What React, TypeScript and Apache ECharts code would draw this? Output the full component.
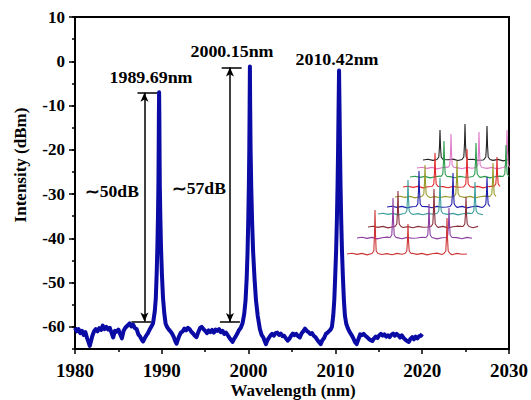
import React, { useEffect, useRef } from "react";
import * as echarts from "echarts";

// ---- Main spectrum (wavelength in nm, intensity in dBm) ----
const wavelength = [
  1980.0, 1980.2, 1980.4, 1980.6, 1980.8, 1981.0, 1981.2, 1981.4, 1981.55, 1981.7, 1981.85, 1982.0,
  1982.2, 1982.4, 1982.6, 1982.8, 1983.0, 1983.2, 1983.4, 1983.6, 1983.8, 1984.0, 1984.2, 1984.4,
  1984.6, 1984.8, 1985.0, 1985.2, 1985.4, 1985.6, 1985.8, 1986.0, 1986.3, 1986.5, 1986.7, 1986.9,
  1987.1, 1987.3, 1987.5, 1987.7, 1987.85, 1988.0, 1988.2, 1988.4, 1988.6, 1988.8, 1988.99,
  1989.19, 1989.31, 1989.41, 1989.49, 1989.56, 1989.61, 1989.64, 1989.665, 1989.69, 1989.715,
  1989.74, 1989.77, 1989.83, 1989.91, 1990.01, 1990.14, 1990.29, 1990.44,
  1990.6, 1990.8, 1991.0, 1991.2, 1991.4, 1991.55, 1991.7, 1991.85, 1992.0, 1992.2, 1992.4, 1992.6,
  1992.8, 1993.0, 1993.2, 1993.4, 1993.6, 1993.8, 1994.0, 1994.2, 1994.4, 1994.6, 1994.8, 1995.0,
  1995.2, 1995.4, 1995.6, 1995.8, 1996.0, 1996.2, 1996.4, 1996.6, 1996.8, 1997.0, 1997.2, 1997.4,
  1997.6, 1997.8, 1998.0, 1998.15, 1998.3, 1998.5, 1998.7, 1998.9, 1999.1, 1999.3,
  1999.5, 1999.65, 1999.78, 1999.88, 1999.96, 2000.03, 2000.08, 2000.12, 2000.15, 2000.18,
  2000.23, 2000.3, 2000.4, 2000.52, 2000.68, 2000.85, 2001.05, 2001.3, 2001.5,
  2001.7, 2001.85, 2002.0, 2002.15, 2002.3, 2002.5, 2002.7, 2002.9, 2003.1, 2003.3, 2003.5, 2003.7,
  2003.9, 2004.1, 2004.3, 2004.5, 2004.7, 2004.9, 2005.1, 2005.3, 2005.5, 2005.7, 2005.9, 2006.1,
  2006.3, 2006.5, 2006.7, 2006.9, 2007.1, 2007.3, 2007.5, 2007.7, 2007.9, 2008.1, 2008.3, 2008.5,
  2008.7, 2008.9, 2009.1, 2009.3, 2009.45, 2009.6,
  2009.75, 2009.87, 2009.97, 2010.08, 2010.17, 2010.25, 2010.31, 2010.37, 2010.42, 2010.47,
  2010.53, 2010.59, 2010.67, 2010.76, 2010.87, 2010.98, 2011.1, 2011.25,
  2011.45, 2011.65, 2011.85, 2012.05, 2012.25, 2012.45, 2012.65, 2012.85, 2013.05, 2013.25,
  2013.45, 2013.65, 2013.85, 2014.05, 2014.25, 2014.45, 2014.65, 2014.85, 2015.05, 2015.25,
  2015.45, 2015.65, 2015.85, 2016.05, 2016.25, 2016.45, 2016.65, 2016.85, 2017.05, 2017.25,
  2017.45, 2017.65, 2017.85, 2018.05, 2018.25, 2018.45, 2018.65, 2018.85, 2019.05, 2019.25,
  2019.45, 2019.65, 2019.85, 2020.0,
];
const intensity = [
  -60.2, -61.0, -60.5, -61.4, -60.9, -61.8, -61.2, -62.6, -63.4, -64.3, -63.2, -62.0,
  -61.0, -60.5, -61.0, -60.3, -60.7, -59.7, -60.5, -60.0, -60.6, -60.2, -61.3, -62.4,
  -60.9, -61.1, -60.6, -61.6, -62.6, -60.9, -60.2, -59.8, -59.2, -59.9, -59.5, -60.3,
  -60.5, -61.7, -62.2, -62.9, -63.3, -62.7, -62.0, -61.4, -60.6, -59.9, -59.2,
  -56.5, -53.5, -48.0, -42.0, -35.0, -28.0, -20.0, -12.0, -7.0, -12.0,
  -20.0, -28.0, -35.0, -42.0, -48.0, -53.5, -57.0, -59.3,
  -60.0, -60.6, -61.0, -61.6, -62.4, -63.2, -63.8, -62.9, -62.1, -61.3, -61.0, -60.4,
  -60.8, -60.2, -60.5, -61.1, -61.5, -62.0, -62.3, -61.2, -60.3, -60.0, -60.5, -60.9,
  -61.4, -60.8, -61.2, -60.7, -61.3, -60.6, -60.9, -60.5, -61.2, -60.9, -61.6, -61.3,
  -61.9, -62.5, -63.0, -63.4, -62.8, -62.2, -61.5, -60.7, -60.2, -59.2,
  -57.0, -54.0, -49.0, -43.0, -36.0, -28.0, -20.0, -10.0, -1.2, -10.0,
  -20.0, -28.0, -36.0, -43.0, -49.0, -54.0, -57.5, -60.5, -61.8,
  -62.4, -63.2, -63.9, -63.1, -62.6, -62.0, -61.6, -62.0, -61.4, -61.3, -61.8, -61.5,
  -62.1, -62.0, -62.6, -63.1, -62.7, -62.0, -61.5, -61.9, -61.6, -62.1, -62.4, -61.5,
  -61.0, -60.4, -60.9, -61.2, -61.6, -61.4, -62.0, -62.3, -62.9, -63.4, -63.9, -63.0,
  -62.5, -61.6, -61.3, -60.9, -60.6, -60.0,
  -57.5, -54.0, -49.0, -43.0, -36.0, -28.0, -20.0, -10.0, -2.1, -10.0,
  -20.0, -28.0, -36.0, -43.0, -49.0, -54.0, -57.5, -59.3,
  -60.4, -61.2, -61.8, -62.5, -63.4, -63.9, -62.8, -61.7, -61.9, -61.6,
  -62.0, -62.3, -62.7, -63.0, -63.2, -62.6, -62.2, -62.5, -61.9, -61.6,
  -62.0, -61.7, -62.2, -61.9, -62.3, -61.8, -61.5, -62.0, -61.6, -61.9,
  -62.4, -61.9, -62.5, -62.9, -63.2, -63.4, -62.7, -62.3, -62.8, -62.2,
  -62.6, -62.1, -62.0, -61.6,
];

// ---- Axis ticks ----
const xMin = 1980;
const xMax = 2030;
const xStep = 10;
const yMin = -65;
const yMax = 10;
const yMajorTicks = [10, 0, -10, -20, -30, -40, -50, -60];

// ---- Annotations (data coordinates) ----
const arrowLines = [
  [[1988.0, -7.1], [1988.0, -58.8]],
  [[1997.85, -1.4], [1997.85, -58.9]],
];
const barLines = [
  [[1987.2, -7.1], [1989.5, -7.1]],
  [[1986.5, -58.8], [1988.8, -58.8]],
  [[1996.9, -1.4], [1999.2, -1.4]],
  [[1996.7, -58.9], [1999.0, -58.9]],
];
const peakLabels = ["1989.69nm", "2000.15nm", "2010.42nm"];
const ratioLabels = ["\u223C50dB", "\u223C57dB"];

// ---- Inset (photo of stacked spectra), in inset pixel units ----
const insetBaseY = [11, 27, 38, 51, 58, 68, 78, 88, 97, 105];
const insetStartX = [2, 12, 23, 33, 42, 50, 58, 65, 72, 78];
const insetEndX = [123, 130, 135, 140, 143, 148, 152, 157, 160, 163];
const insetPeakX = [
  [28, 61, 100], [36, 72, 92], [30, 66, 98], [30, 62, 97], [32, 66, 100],
  [30, 62, 98], [32, 64, 94], [34, 66, 96], [34, 62, 90], [17, 42, 64],
];
const insetPeakH = [
  [44, 30, 36], [40, 34, 30], [36, 38, 30], [34, 36, 32], [36, 34, 30],
  [32, 36, 34], [34, 38, 30], [36, 34, 32], [34, 36, 38], [30, 36, 34],
];
const insetColors = [
  "#cc3535", "#8c3ca0", "#8a2f3a", "#3a9c9c", "#1c1caa",
  "#9a9a2a", "#e02a2a", "#2a9a4a", "#e07ac8", "#222222",
];
const insetWiggle = [0, 0.8, -0.4, 0.6, -0.9, 0.3, 0.9, -0.5, 0.4, -0.7, 0.6, -0.2];
const peakShape = [[-3, 0.5, 0], [-1.2, 3, 0], [-0.5, 0, 0.45], [0, 0, 1], [0.5, 0, 0.45], [1.2, 3, 0], [3, 0.5, 0]];

const FONT = "'Liberation Serif', 'Times New Roman', serif";
const BLUE = "#0a0aa5";

function buildInsetTrace(i: number) {
  const pts: number[][] = [];
  const b = insetBaseY[i];
  const peaks = insetPeakX[i].map((p) => p + insetStartX[i]);
  let k = 0;
  for (let x = insetStartX[i]; x <= insetEndX[i]; x += 5, k++) {
    if (peaks.some((p) => Math.abs(p - x) < 3.5)) continue;
    pts.push([x, b + insetWiggle[k % insetWiggle.length]]);
  }
  peaks.forEach((p, j) => {
    const h = insetPeakH[i][j];
    peakShape.forEach(([dx, dy, f]) => pts.push([p + dx, b + dy + f * h]));
  });
  pts.sort((a, c) => a[0] - c[0]);
  return pts;
}

export default function App() {
  const ref = useRef<HTMLDivElement>(null);
  useEffect(() => {
    if (!ref.current) return;
    const chart = echarts.init(ref.current, undefined, { renderer: "svg" });
    const mainData = wavelength.map((w, i) => [w, intensity[i]]);

    const markData: any[] = [];
    arrowLines.forEach(([a, c]) => {
      markData.push([
        { coord: a, symbol: "arrow", symbolSize: [6, 9] },
        { coord: c, symbol: "arrow", symbolSize: [6, 9] },
      ]);
    });
    barLines.forEach(([a, c]) => {
      markData.push([
        { coord: a, symbol: "none" },
        { coord: c, symbol: "none" },
      ]);
    });

    const insetSeries = insetBaseY.map((_, i) => ({
      type: "line",
      xAxisIndex: 1,
      yAxisIndex: 2,
      data: buildInsetTrace(i),
      showSymbol: false,
      silent: true,
      lineStyle: { color: insetColors[i], width: 1.1 },
      z: 20 - i,
    }));

    const textStyle = (text: string, size: number) => ({
      text,
      fontSize: size,
      fontWeight: "bold",
      fontFamily: FONT,
      fill: "#000",
      align: "center",
      verticalAlign: "middle",
    });

    chart.setOption({
      animation: false,
      backgroundColor: "#fff",
      textStyle: { fontFamily: FONT, fontWeight: "bold" },
      grid: [
        { left: 75, top: 17, width: 436, height: 332, show: true, borderColor: "#000", borderWidth: 2, backgroundColor: "transparent" },
        { left: 345, top: 115, width: 170, height: 150, show: false },
      ],
      xAxis: [
        {
          type: "value",
          gridIndex: 0,
          min: xMin,
          max: xMax,
          interval: xStep,
          axisLine: { show: true, onZero: false, lineStyle: { color: "#000", width: 2 } },
          axisTick: { show: true, inside: false, length: 5, lineStyle: { color: "#000", width: 1.5 } },
          minorTick: { show: true, splitNumber: 2, length: 3, lineStyle: { color: "#000", width: 1.5 } },
          splitLine: { show: false },
          axisLabel: {
            color: "#000", margin: 12,
            formatter: (v: number) => "{b|" + v + "}",
            rich: { b: { fontSize: 19, fontWeight: "bold", fontFamily: FONT, color: "#000" } },
          },
        },
        { type: "value", gridIndex: 1, min: 0, max: 170, show: false },
      ],
      yAxis: [
        {
          type: "value",
          gridIndex: 0,
          min: yMin,
          max: yMax,
          axisLine: { show: true, onZero: false, lineStyle: { color: "#000", width: 2 } },
          axisTick: { show: true, inside: false, length: 6, customValues: yMajorTicks, lineStyle: { color: "#000", width: 1.5 } },
          splitLine: { show: false },
          axisLabel: {
            color: "#000", margin: 10,
            customValues: yMajorTicks,
            formatter: (v: number) => "{b|" + v + "}",
            rich: { b: { fontSize: 17, fontWeight: "bold", fontFamily: FONT, color: "#000" } },
          },
        },
        {
          type: "value",
          gridIndex: 0,
          min: yMin,
          max: yMax,
          interval: 5,
          position: "left",
          axisLine: { show: false },
          axisTick: { show: true, inside: false, length: 3, lineStyle: { color: "#000", width: 1.5 } },
          axisLabel: { show: false },
          splitLine: { show: false },
        },
        { type: "value", gridIndex: 1, min: 0, max: 150, show: false },
      ],
      graphic: [
        { type: "text", x: 151, y: 78, scaleX: 1.12, style: textStyle(peakLabels[0], 16), z: 100 },
        { type: "text", x: 232, y: 52, scaleX: 1.12, style: textStyle(peakLabels[1], 16), z: 100 },
        { type: "text", x: 337, y: 60, scaleX: 1.12, style: textStyle(peakLabels[2], 16), z: 100 },
        { type: "text", x: 112, y: 192, scaleX: 1.1, style: textStyle(ratioLabels[0], 16), z: 100 },
        { type: "text", x: 199, y: 189, scaleX: 1.1, style: textStyle(ratioLabels[1], 16), z: 100 },
        { type: "text", x: 20, y: 165, rotation: Math.PI / 2, style: textStyle("Intensity (dBm)", 17), z: 100 },
        { type: "text", x: 293, y: 390, style: textStyle("Wavelength (nm)", 17), z: 100 },
      ],
      series: [
        {
          type: "line",
          xAxisIndex: 0,
          yAxisIndex: 0,
          data: mainData,
          showSymbol: false,
          silent: true,
          lineStyle: { color: BLUE, width: 4, join: "round" },
          z: 10,
          markLine: {
            silent: true,
            animation: false,
            label: { show: false },
            lineStyle: { color: "#000", width: 1.5, type: "solid" },
            emphasis: { disabled: true },
            data: markData,
          },
        },
        ...insetSeries,
      ],
    });
    return () => chart.dispose();
  }, []);
  return (
    <div
      ref={ref}
      style={{ position: "fixed", left: 0, top: 0, width: 531, height: 400, background: "#fff" }}
    />
  );
}
